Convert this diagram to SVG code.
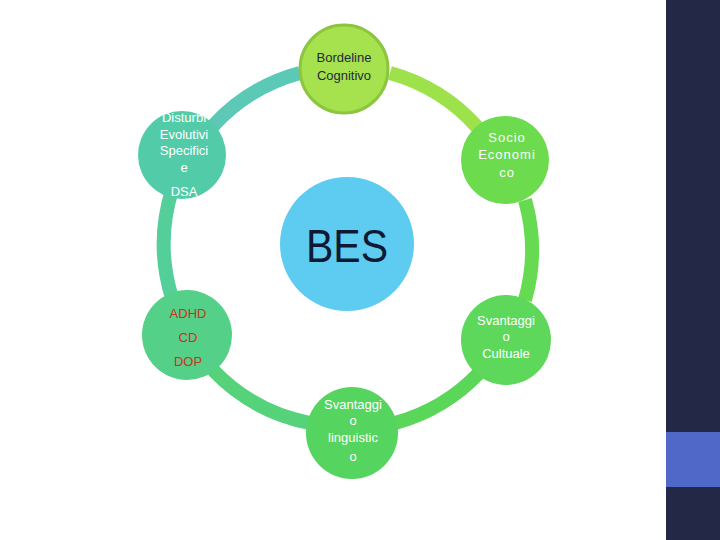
<svg xmlns="http://www.w3.org/2000/svg" width="720" height="540" viewBox="0 0 720 540">
<style>
.ring{fill:none;stroke-width:14;}
.t{font-family:"Liberation Sans",Arial,sans-serif;font-size:13px;text-anchor:middle;fill:#ffffff;}
.dk{fill:#1f2a36;}
.red{fill:#c8321e;}
</style>
<rect x="0" y="0" width="720" height="540" fill="#ffffff"/>
<rect x="666" y="0" width="54" height="540" fill="#232846"/>
<rect x="666" y="432" width="54" height="55" fill="#5068c8"/>
<g id="connectors">
<path class="ring" stroke="#5cc8b6" d="M 300 73 A 182 182 0 0 0 213 126"/>
<path class="ring" stroke="#9de24a" d="M 390 73 A 182 182 0 0 1 478 128"/>
<path class="ring" stroke="#54cf9a" d="M 172 190 A 182 182 0 0 0 172 298"/>
<path class="ring" stroke="#66da50" d="M 525 200 A 182 182 0 0 1 525 300"/>
<path class="ring" stroke="#55d27a" d="M 213 370 A 182 182 0 0 0 310 423"/>
<path class="ring" stroke="#5ad658" d="M 395 423 A 182 182 0 0 0 480 372"/>
</g>
<g id="bes">
<circle cx="347" cy="244" r="67" fill="#5ecbf0"/>
<text x="347" y="262" font-family="'Liberation Sans',Arial,sans-serif" font-size="47" text-anchor="middle" fill="#0e1a33" textLength="82" lengthAdjust="spacingAndGlyphs">BES</text>
</g>
<g id="n-bordeline">
<circle cx="344" cy="69" r="44" fill="#a6e24e" stroke="#8cc63f" stroke-width="3"/>
<text class="t dk" x="344" y="62">Bordeline</text>
<text class="t dk" x="344" y="80">Cognitivo</text>
</g>
<g id="n-disturbi">
<circle cx="182" cy="155" r="44" fill="#52cca8"/>
<text class="t" x="184" y="122">Disturbi</text>
<text class="t" x="184" y="139">Evolutivi</text>
<text class="t" x="184" y="155">Specifici</text>
<text class="t" x="184" y="172">e</text>
<text class="t" x="184" y="196">DSA</text>
</g>
<g id="n-socio">
<circle cx="505" cy="160" r="44" fill="#6cdb4e"/>
<text class="t" x="507" y="142" letter-spacing="1">Socio</text>
<text class="t" x="507" y="159" letter-spacing="1">Economi</text>
<text class="t" x="507" y="177" letter-spacing="1">co</text>
</g>
<g id="n-adhd">
<circle cx="187" cy="335" r="45" fill="#55d088"/>
<text class="t red" x="188" y="318">ADHD</text>
<text class="t red" x="188" y="342">CD</text>
<text class="t red" x="188" y="366">DOP</text>
</g>
<g id="n-cultuale">
<circle cx="506" cy="340" r="45" fill="#5dd85a"/>
<text class="t" x="506" y="325">Svantaggi</text>
<text class="t" x="506" y="341">o</text>
<text class="t" x="506" y="358">Cultuale</text>
</g>
<g id="n-linguistico">
<circle cx="352" cy="433" r="46" fill="#55d460"/>
<text class="t" x="353" y="409">Svantaggi</text>
<text class="t" x="353" y="425">o</text>
<text class="t" x="353" y="442">linguistic</text>
<text class="t" x="353" y="461">o</text>
</g>
</svg>
